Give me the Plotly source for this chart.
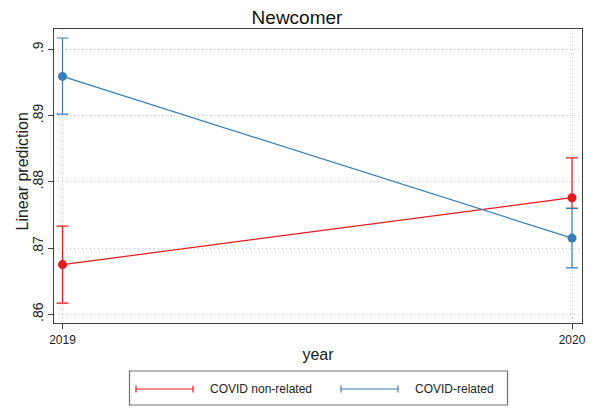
import plotly.graph_objects as go

# ---- data ----
years = [2019, 2020]
series_names = ["COVID non-related", "COVID-related"]
non_related_est = [0.8675, 0.8776]
non_related_lo = [0.8617, 0.8760]
non_related_hi = [0.8733, 0.8836]
related_est = [0.8959, 0.8715]
related_lo = [0.8902, 0.8670]
related_hi = [0.9017, 0.8760]
y_tickvals = [0.86, 0.87, 0.88, 0.89, 0.90]
y_ticktext = [".86", ".87", ".88", ".89", ".9"]
x_tickvals = [2019, 2020]
x_ticktext = ["2019", "2020"]

RED = "#e41a1c"
BLUE = "#377eb8"
FONT = "Liberation Sans, Arial, sans-serif"

# page body has an 8px margin: figure starts at (8, 8) in the window
OFF = 8
WIN_W, WIN_H = 594, 408
W, H = WIN_W - OFF, WIN_H - OFF
# plot area in window pixels
PL, PR, PT, PB = 54, 582, 29, 323
ML, MR, MT, MB = PL - OFF, WIN_W - PR, PT - OFF, WIN_H - PB
PW, PH = PR - PL, PB - PT


def px_x(px):
    return (px - PL) / PW


def px_y(py):
    return (PB - py) / PH


fig = go.Figure()

for name, est, lo, hi, col in [
    (series_names[0], non_related_est, non_related_lo, non_related_hi, RED),
    (series_names[1], related_est, related_lo, related_hi, BLUE),
]:
    fig.add_trace(go.Scatter(
        x=years, y=est, name=name, mode="lines+markers",
        line=dict(color=col, width=1.2),
        marker=dict(color=col, size=9, symbol="circle"),
        error_y=dict(type="data", symmetric=False,
                     array=[h - e for h, e in zip(hi, est)],
                     arrayminus=[e - l for e, l in zip(est, lo)],
                     color=col, thickness=1.2, width=6),
        showlegend=False,
        cliponaxis=False,
    ))

axis_common = dict(
    showline=True, mirror=True, linecolor="#404040", linewidth=1.2,
    ticks="outside", ticklen=5, tickcolor="#404040", tickwidth=1,
    showgrid=True, gridcolor="#c8c8c8", griddash="1px,3px", gridwidth=1,
    zeroline=False, automargin=False,
)

fig.update_xaxes(
    range=[2019 - 0.0167, 2020 + 0.0196],
    tickvals=x_tickvals, ticktext=x_ticktext,
    tickfont=dict(size=12, color="#222", family=FONT),
    title=dict(text="year", font=dict(size=16, color="#222", family=FONT), standoff=3),
    **axis_common,
)
fig.update_yaxes(
    range=[0.85869, 0.90306],
    tickvals=y_tickvals, ticktext=y_ticktext, tickangle=-90,
    ticklabelstandoff=-1,
    tickfont=dict(size=14, color="#222", family=FONT),
    **axis_common,
)

# ---- manual legend (Stata-style capped lines) ----
shapes = [dict(type="rect", xref="paper", yref="paper",
               x0=px_x(129.5), x1=px_x(507.5), y0=px_y(405), y1=px_y(371),
               line=dict(color="#707070", width=1.2), fillcolor="white")]
annotations = [dict(xref="paper", yref="paper", x=px_x(21.5), y=px_y(172),
                    xanchor="center", yanchor="middle", textangle=-90, showarrow=False,
                    text="Linear prediction", font=dict(size=16, color="#222", family=FONT))]
leg_y = 389
for (x0, x1, tx), col, name in zip([(136, 193, 208), (341, 398, 413)], [RED, BLUE], series_names):
    shapes.append(dict(type="line", xref="paper", yref="paper",
                       x0=px_x(x0), x1=px_x(x1), y0=px_y(leg_y), y1=px_y(leg_y),
                       line=dict(color=col, width=1.2)))
    for cx in (x0, x1):
        shapes.append(dict(type="line", xref="paper", yref="paper",
                           x0=px_x(cx), x1=px_x(cx), y0=px_y(leg_y - 3.5), y1=px_y(leg_y + 3.5),
                           line=dict(color=col, width=1.2)))
    annotations.append(dict(xref="paper", yref="paper", x=px_x(tx), y=px_y(leg_y),
                            xanchor="left", yanchor="middle", showarrow=False,
                            text=name, font=dict(size=12, color="#222", family=FONT)))

fig.update_layout(
    width=W, height=H,
    margin=dict(l=ML, r=MR, t=MT, b=MB, autoexpand=False),
    paper_bgcolor="white", plot_bgcolor="white",
    title=dict(text="Newcomer", x=(297 - OFF) / W, xref="container", xanchor="center",
               y=1 - (17.5 - OFF) / H, yref="container", yanchor="middle",
               font=dict(size=19, color="#111", family=FONT)),
    shapes=shapes, annotations=annotations,
    showlegend=False,
)

fig.write_html("out.html")
